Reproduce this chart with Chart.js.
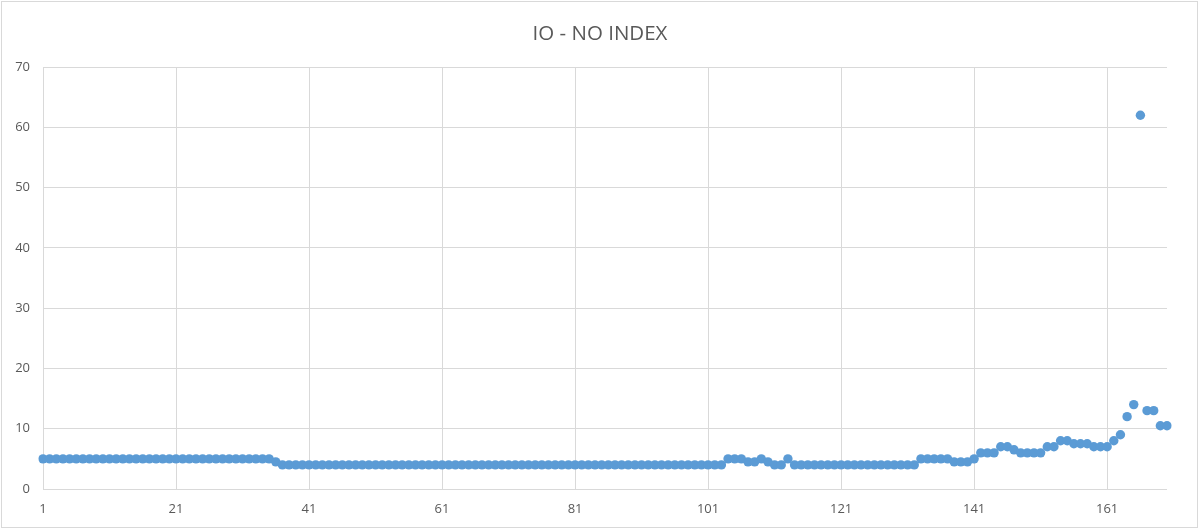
<!DOCTYPE html>
<html>
<head>
<meta charset="utf-8">
<script src="https://cdn.jsdelivr.net/npm/chart.js@4.4.1/dist/chart.umd.min.js"></script>
<style>
  body { margin: 0; background: #fff; }
  .wrap { position: relative; width: 1200px; height: 531px; }
  .frame { position: absolute; left: 1px; top: 1px; width: 1195px; height: 525px; border: 1px solid #d9d9d9; pointer-events: none; }
  .title { position: absolute; left: 0; top: 19px; width: 1200px; text-align: center; font: 20.5px "Open Sans", sans-serif; color: #595959; line-height: 26px; }
</style>
</head>
<body>
<div class="wrap">
  <canvas id="io"></canvas>
  <div class="title" id="title"></div>
  <div class="frame"></div>
</div>
<script>
//data
const chartTitle = "IO - NO INDEX";

const ioValues = [
  5, 5, 5, 5, 5, 5, 5, 5, 5, 5,
  5, 5, 5, 5, 5, 5, 5, 5, 5, 5,
  5, 5, 5, 5, 5, 5, 5, 5, 5, 5,
  5, 5, 5, 5, 5, 4.5, 4, 4, 4, 4,
  4, 4, 4, 4, 4, 4, 4, 4, 4, 4,
  4, 4, 4, 4, 4, 4, 4, 4, 4, 4,
  4, 4, 4, 4, 4, 4, 4, 4, 4, 4,
  4, 4, 4, 4, 4, 4, 4, 4, 4, 4,
  4, 4, 4, 4, 4, 4, 4, 4, 4, 4,
  4, 4, 4, 4, 4, 4, 4, 4, 4, 4,
  4, 4, 4, 5, 5, 5, 4.5, 4.5, 5, 4.5,
  4, 4, 5, 4, 4, 4, 4, 4, 4, 4,
  4, 4, 4, 4, 4, 4, 4, 4, 4, 4,
  4, 4, 5, 5, 5, 5, 5, 4.5, 4.5, 4.5,
  5, 6, 6, 6, 7, 7, 6.5, 6, 6, 6,
  6, 7, 7, 8, 8, 7.5, 7.5, 7.5, 7, 7,
  7, 8, 9, 12, 14, 62, 13, 13, 10.5, 10.5,
];

// categories 1..170
const categories = ioValues.map((v, i) => String(i + 1));

const yTicks = [0, 10, 20, 30, 40, 50, 60, 70];
const labelEvery = 20;

document.getElementById("title").textContent = chartTitle;

//chart
const ctx = document.getElementById("io");

new Chart(ctx, {
  type: "line",
  data: {
    labels: categories,
    datasets: [
      {
        label: "IO",
        data: ioValues,
        showLine: false,
        pointRadius: 4.7,
        pointHoverRadius: 4.7,
        pointBorderWidth: 0,
        pointBackgroundColor: "#5B9BD5",
        borderColor: "#5B9BD5",
      },
    ],
  },
  options: {
    responsive: true,
    maintainAspectRatio: false,
    animation: false,
    layout: {
      padding: { left: 0, right: 33, top: 67, bottom: 0 },
    },
    scales: {
      x: {
        offset: false,
        border: { display: false },
        grid: {
          color: "#d9d9d9",
          drawTicks: false,
        },
        ticks: {
          autoSkip: false,
          maxRotation: 0,
          minRotation: 0,
          padding: 12,
          color: "#595959",
          font: { family: "'Open Sans'", size: 13 },
          callback: function (value, index) {
            return index % labelEvery === 0 ? this.getLabelForValue(value) : null;
          },
        },
        afterFit: (scale) => {
          scale.height = 42;
        },
      },
      y: {
        min: yTicks[0],
        max: yTicks[yTicks.length - 1],
        border: { display: false },
        grid: {
          color: "#d9d9d9",
          drawTicks: false,
        },
        afterBuildTicks: (scale) => {
          scale.ticks = yTicks.map((v) => ({ value: v }));
        },
        ticks: {
          padding: 13,
          color: "#595959",
          font: { family: "'Open Sans'", size: 13 },
        },
        afterFit: (scale) => {
          scale.width = 43;
        },
      },
    },
    plugins: {
      legend: {
        display: false,
      },
      tooltip: { enabled: false },
      title: { display: false },
    },
  },
});

ctx.style.display = "block";
</script>
</body>
</html>
